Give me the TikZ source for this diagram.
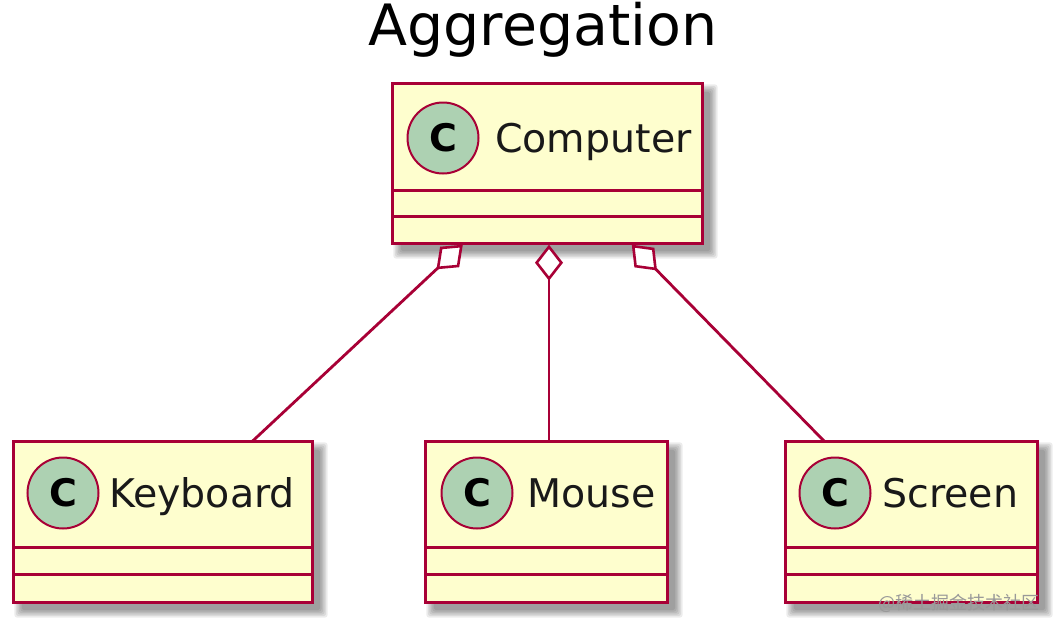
\documentclass[tikz,border=0pt]{standalone}
\usepackage{fontspec}
\setmainfont{DejaVu Sans}
\newfontfamily\cjkfont{Noto Sans CJK SC}
\usetikzlibrary{arrows.meta,calc}
\definecolor{umlred}{HTML}{A80036}
\definecolor{umlfill}{HTML}{FEFECE}
\definecolor{umlcirc}{HTML}{ADD1B2}
\newcommand\myshadow[1]{%
  \foreach \b in {0,1.5,3,4.5,6,7.5}{%
    \fill[black,opacity=0.075,rounded corners=3pt]
      ($(#1.north west)+(8-\b,8-\b)$) rectangle ($(#1.south east)+(8+\b,8+\b)$);}}
\tikzset{
  clsbox/.style={draw=umlred,fill=umlfill,line width=3pt,rectangle,inner sep=0pt},
  sepline/.style={draw=umlred,line width=3pt},
  circnode/.style={circle,draw=umlred,fill=umlcirc,line width=2pt,minimum size=71pt,inner sep=0pt,
     font=\fontsize{38}{40}\selectfont\bfseries,text=black},
  clsname/.style={anchor=base west,inner sep=0pt,font=\fontsize{39.5}{42}\selectfont,text=black!90},
  aggedge/.style={draw=umlred,line width=2.8pt,-{Diamond[open,fill=white,length=36pt,width=28pt,line width=2.6pt]}},
}
\begin{document}
\begin{tikzpicture}[x=1pt,y=-1pt]
\useasboundingbox (0,0) rectangle (1060,632);
\fill[white] (0,0) rectangle (1060,632);
% title
\node[anchor=base,inner sep=0pt,font=\fontsize{57}{60}\selectfont] (title) at (543,45) {Aggregation};
% boxes (named, used for shadows and connectors)
\node[minimum width=309pt,minimum height=159pt,inner sep=0pt] (comp) at (547.5,163.5) {};
\node[minimum width=298pt,minimum height=160pt,inner sep=0pt] (kb) at (163,522) {};
\node[minimum width=241pt,minimum height=160pt,inner sep=0pt] (mouse) at (546.5,522) {};
\node[minimum width=251pt,minimum height=160pt,inner sep=0pt] (scr) at (911.5,522) {};
% shadows
\myshadow{comp}\myshadow{kb}\myshadow{mouse}\myshadow{scr}
% box outlines
\foreach \n in {comp,kb,mouse,scr}{
  \draw[clsbox] (\n.north west) rectangle (\n.south east);
}
% separators
\draw[sepline] (comp.west |- 0,190) -- (comp.east |- 0,190);
\draw[sepline] (comp.west |- 0,216) -- (comp.east |- 0,216);
\foreach \n in {kb,mouse,scr}{
  \draw[sepline] (\n.west |- 0,547) -- (\n.east |- 0,547);
  \draw[sepline] (\n.west |- 0,574) -- (\n.east |- 0,574);
}
% header contents
\node[circnode] (compc) at (443,138) {C};
\node[clsname] (compt) at (495,152) {Computer};
\node[circnode] (kbc) at (63,493) {C};
\node[clsname] (kbt) at (109,507) {Keyboard};
\node[circnode] (mousec) at (477,493) {C};
\node[clsname] (mouset) at (527,507) {Mouse};
\node[circnode] (scrc) at (835,493) {C};
\node[clsname] (scrt) at (882,507) {Screen};
% aggregation edges
\draw[aggedge] ($(kb.north west)+(238,0)$) -- ($(comp.south west)+(70,1.5)$);
\draw[aggedge] ($(mouse.north)+(2.5,0)$) -- ($(comp.south)+(1.5,1.5)$);
\draw[aggedge] ($(scr.north west)+(39,0)$) -- ($(comp.south west)+(239,1.5)$);
% watermark
\node[inner sep=0pt,font=\cjkfont\fontsize{18}{20}\selectfont,text=black!40] (wm) at (959,603) {@稀土掘金技术社区};
\end{tikzpicture}
\end{document}
